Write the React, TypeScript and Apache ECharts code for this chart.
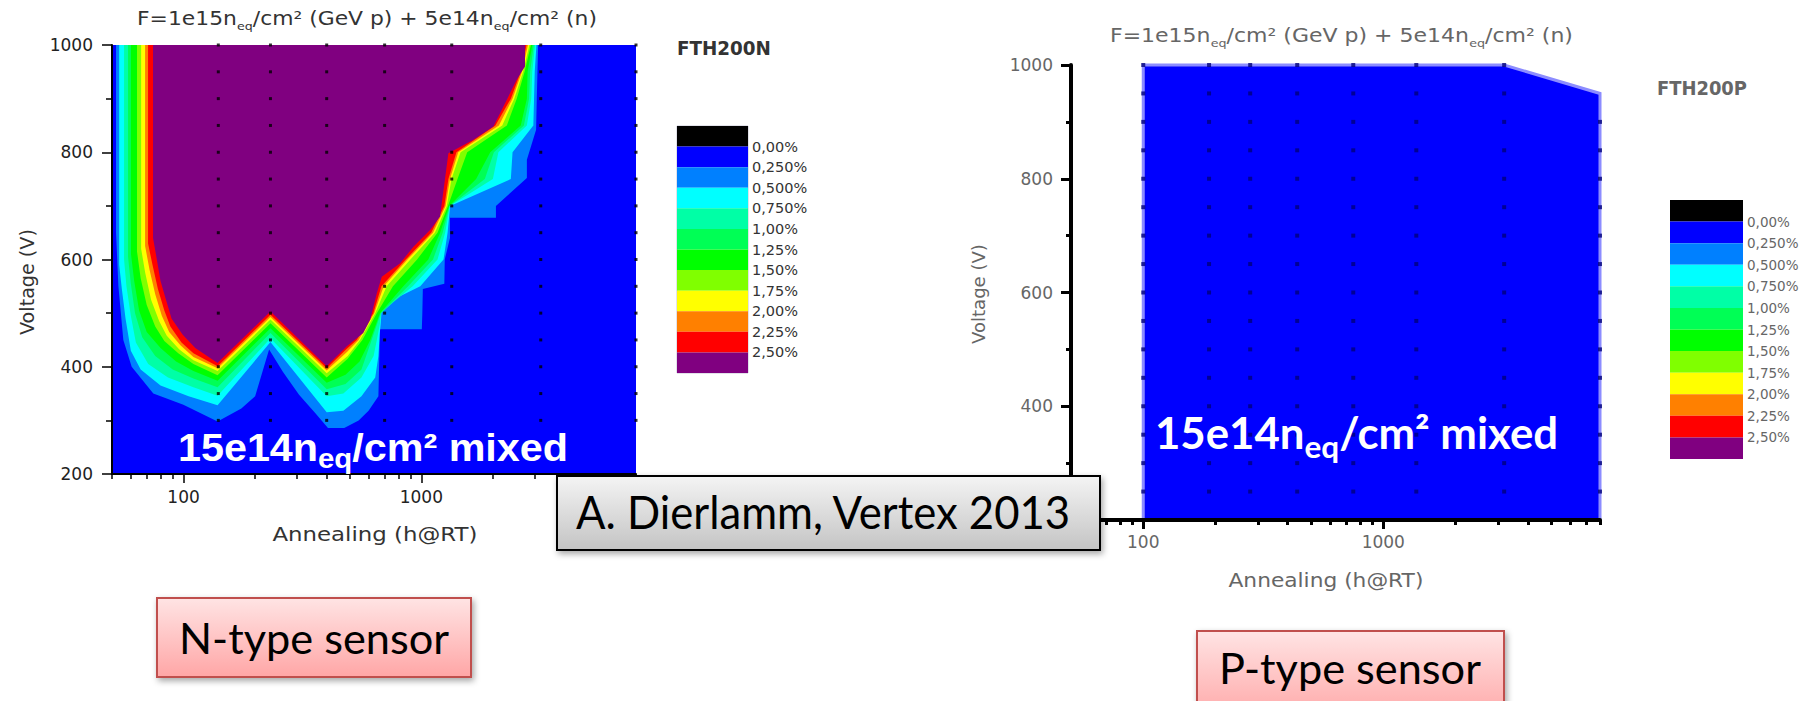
import React, { useEffect, useRef } from 'react';
import * as echarts from 'echarts';

// Leakage-current classes (0.25 % steps), lowest to highest
const BAND_COLORS = ['#000000', '#0000ff', '#0080ff', '#00ffff', '#00ffa6', '#00ff55', '#00ff00', '#80ff00', '#ffff00', '#ff8000', '#ff0000', '#800080'];
const BAND_LABELS = ['0,00%', '0,250%', '0,500%', '0,750%', '1,00%', '1,25%', '1,50%', '1,75%', '2,00%', '2,25%', '2,50%'];

// Axes: annealing time (h@RT, log) and bias voltage (V)
const TIME_RANGE = [50, 8000];
const TIME_MAJOR = [100, 1000];
const TIME_MINOR = [50, 60, 70, 80, 90, 200, 300, 400, 500, 600, 700, 800, 900, 2000, 3000, 4000, 5000, 6000, 7000, 8000];
const VOLT_RANGE = [200, 1000];
const VOLT_STEP = 200;

// FTH200N: outline of each region above a class threshold, [annealing h, voltage V]
const N_025 = [[52, 1000], [52, 650], [53.2, 550], [55.8, 450], [60.5, 400], [74.6, 350], [99.8, 329], [139, 298], [175, 322], [200, 345], [229, 432], [262, 390], [306, 348], [357, 314], [405, 286], [474, 286], [545, 300], [600, 318], [660, 345], [670, 470], [1005, 470], [1010, 500], [1015, 545], [1250, 555], [1255, 600], [1320, 640], [1320, 678], [2060, 678], [2060, 700], [2780, 752], [2780, 786], [3040, 842], [3060, 900], [3100, 1000]];
const N_050 = [[53.6, 1000], [53.6, 590], [55, 545], [57, 490], [60, 430], [66, 395], [80, 365], [105, 345], [139, 328], [232, 446], [400, 315], [470, 318], [560, 345], [640, 380], [660, 420], [668, 460], [675, 480], [680, 500], [720, 520], [990, 550], [1240, 600], [1290, 650], [1322, 700], [2380, 750], [2420, 800], [2960, 850], [2980, 900], [3000, 950], [3050, 1000]];
const N_075 = [[56.2, 1000], [56.2, 600], [57.5, 550], [60, 495], [63, 445], [71, 405], [86, 380], [110, 362], [139, 346], [232, 453], [400, 345], [470, 350], [560, 380], [630, 420], [650, 450], [670, 480], [678, 500], [760, 520], [920, 550], [1170, 600], [1260, 650], [1318, 700], [2000, 750], [2110, 800], [2780, 850], [2900, 900], [2930, 950], [3010, 1000]];
const N_100 = [[58.4, 1000], [58.4, 605], [60, 555], [62.5, 500], [67, 455], [76, 420], [90, 395], [110, 378], [139, 362], [232, 463], [400, 358], [480, 368], [560, 395], [618, 450], [675, 500], [880, 550], [1120, 600], [1230, 650], [1315, 700], [1850, 750], [2020, 800], [2700, 850], [2840, 900], [2870, 950], [2970, 1000]];
const N_125 = [[60.1, 1000], [60.1, 610], [62, 560], [65, 505], [70, 465], [80, 435], [93, 410], [110, 392], [139, 374], [232, 472], [400, 370], [480, 385], [550, 410], [610, 450], [670, 500], [840, 550], [1070, 600], [1200, 650], [1310, 700], [1700, 750], [1950, 800], [2620, 850], [2780, 900], [2800, 950], [2930, 1000]];
const N_150 = [[63.7, 1000], [63.7, 615], [66, 565], [70, 515], [76, 475], [83, 448], [95, 425], [110, 405], [139, 384], [232, 481], [400, 380], [490, 415], [565, 450], [650, 500], [760, 550], [960, 600], [1170, 650], [1295, 700], [1420, 750], [1560, 800], [2290, 850], [2520, 900], [2720, 950], [2890, 1000]];
const N_175 = [[66.3, 1000], [66.3, 620], [69, 575], [73, 525], [79, 485], [85, 458], [96, 432], [110, 412], [139, 392], [232, 488], [400, 388], [490, 420], [552, 450], [640, 500], [715, 550], [900, 600], [1140, 650], [1280, 700], [1340, 750], [1463, 800], [2190, 850], [2460, 900], [2680, 950], [2850, 1000]];
const N_200 = [[68.9, 1000], [68.9, 625], [72, 580], [76, 535], [81, 495], [87, 465], [97, 440], [110, 418], [139, 397], [232, 493], [400, 393], [488, 428], [545, 450], [634, 500], [695, 550], [875, 600], [1120, 650], [1265, 700], [1320, 750], [1430, 800], [2120, 850], [2420, 900], [2650, 950], [2810, 1000]];
const N_225 = [[70.9, 1000], [70.9, 630], [74, 590], [78, 545], [83, 505], [88, 475], [98, 445], [110, 425], [139, 401], [232, 497], [400, 397], [485, 433], [535, 450], [628, 500], [680, 550], [860, 600], [1100, 650], [1250, 700], [1300, 750], [1405, 800], [2050, 850], [2380, 900], [2620, 950], [2770, 1000]];
const N_250 = [[74.4, 1000], [74.4, 640], [76.5, 610], [80, 560], [85, 520], [89, 490], [99, 460], [112, 435], [139, 407], [232, 503], [400, 401], [486, 438], [570, 463], [610, 488], [650, 537], [682, 568], [815, 593], [927, 624], [1089, 655], [1199, 680], [1300, 798], [1650, 823], [2010, 848], [2290, 898], [2518, 935], [2730, 960], [2730, 1000]];
const N_CONTOURS = [N_025, N_050, N_075, N_100, N_125, N_150, N_175, N_200, N_225, N_250];

// FTH200N measurement grid
const N_MEAS_TIMES = [140, 232, 400, 701, 1343, 3180, 8000];
const N_MEAS_VOLTS = [300, 350, 400, 450, 500, 550, 600, 650, 700, 750, 800, 850, 900, 950, 1000];

// FTH200P: whole measured area stays in the lowest class
const P_REGION = [[100, 200], [100, 1000], [3190, 1000], [8000, 950], [8000, 200]];
const P_MEAS_TIMES = [100, 188, 279, 438, 750, 1373, 3190];
const P_MEAS_VOLTS = [250, 300, 350, 400, 450, 500, 550, 600, 650, 700, 750, 800, 850, 900, 950, 1000];
const P_LAST_TIME = 8000;
const P_LAST_VOLTS = [250, 300, 350, 400, 450, 500, 550, 600, 650, 700, 750, 800, 850, 900];

const FONT = 'DejaVu Sans';
const SLIDE_FONT = 'Lato';

type Seg = { text: string; sub?: boolean };
const TITLE_SEGS: Seg[] = [{ text: 'F=1e15n' }, { text: 'eq', sub: true }, { text: '/cm² (GeV p) + 5e14n' }, { text: 'eq', sub: true }, { text: '/cm² (n)' }];
const MIXED_SEGS: Seg[] = [{ text: '15e14n' }, { text: 'eq', sub: true }, { text: '/cm² mixed' }];

let measureCtx: CanvasRenderingContext2D | null = null;
function textWidth(text: string, size: number, family: string, weight: string | number) {
  if (!measureCtx) measureCtx = document.createElement('canvas').getContext('2d');
  if (!measureCtx) return text.length * size * 0.6;
  measureCtx.font = `${weight} ${size}px "${family}"`;
  return measureCtx.measureText(text).width;
}

interface LineOpts {
  segs: Seg[]; x: number; y: number; width: number; size: number; subSize?: number; subDy?: number;
  family: string; weight?: string | number; color: string; anchor?: 'left' | 'center'; z: number; rotation?: number;
}

// One line of text with subscripts, laid out segment by segment and stretched to a given width
function textLine(o: LineOpts) {
  const weight = o.weight ?? 'normal';
  const widths = o.segs.map((s) => textWidth(s.text, s.sub ? (o.subSize ?? o.size * 0.6) : o.size, o.family, weight));
  const natural = widths.reduce((a, b) => a + b, 0);
  let cursor = o.anchor === 'center' ? -natural / 2 : 0;
  const children: any[] = [];
  o.segs.forEach((s, i) => {
    const fs = s.sub ? (o.subSize ?? o.size * 0.6) : o.size;
    children.push({
      type: 'text', x: cursor, y: s.sub ? (o.subDy ?? 0) : 0, z: o.z, silent: true,
      style: { text: s.text, fontSize: fs, fontFamily: o.family, fontWeight: weight, fill: o.color, align: 'left', verticalAlign: 'middle' },
    });
    cursor += widths[i];
  });
  return { type: 'group', x: o.x, y: o.y, rotation: o.rotation ?? 0, scaleX: o.width / natural, children };
}

function slideBox(x: number, y: number, w: number, h: number, top: string, bottom: string, stroke: string, z: number) {
  return {
    type: 'rect', z, silent: true,
    shape: { x, y, width: w, height: h },
    style: {
      fill: { type: 'linear', x: 0, y: 0, x2: 0, y2: 1, colorStops: [{ offset: 0, color: top }, { offset: 1, color: bottom }] },
      stroke, lineWidth: 2, shadowBlur: 6, shadowOffsetX: 2, shadowOffsetY: 3, shadowColor: 'rgba(0,0,0,0.35)',
    },
  };
}

function timeAxes(gridIndex: number, lineWidth: number, tickWidth: number, labelColor: string, labelSize: number, labelMargin: number) {
  const base = { type: 'log', logBase: 10, gridIndex, min: TIME_RANGE[0], max: TIME_RANGE[1], position: 'bottom', z: 10, splitLine: { show: false } };
  return [
    {
      ...base,
      axisLine: { show: true, onZero: false, lineStyle: { color: '#000', width: lineWidth } },
      axisTick: { show: true, customValues: TIME_MAJOR, length: 9, lineStyle: { color: '#000', width: tickWidth } },
      axisLabel: {
        customValues: TIME_MAJOR, margin: labelMargin, fontSize: labelSize, color: labelColor, fontFamily: FONT,
        formatter: (v: number) => String(Math.round(v)),
      },
    },
    {
      ...base,
      axisLine: { show: false, onZero: false },
      axisLabel: { show: false },
      axisTick: { show: true, customValues: TIME_MINOR, length: 5, lineStyle: { color: '#000', width: tickWidth } },
    },
  ];
}

function voltAxis(gridIndex: number, lineWidth: number, tickWidth: number, labelColor: string, labelSize: number, labelMargin: number, minorLen: number) {
  return {
    type: 'value', gridIndex, min: VOLT_RANGE[0], max: VOLT_RANGE[1], interval: VOLT_STEP, z: 10,
    axisLine: { show: true, onZero: false, lineStyle: { color: '#000', width: lineWidth } },
    axisTick: { show: true, length: 10, lineStyle: { color: '#000', width: tickWidth } },
    minorTick: { show: true, splitNumber: 2, length: minorLen, lineStyle: { color: '#000', width: tickWidth } },
    splitLine: { show: false },
    axisLabel: { margin: labelMargin, fontSize: labelSize, color: labelColor, fontFamily: FONT, formatter: (v: number) => String(v) },
  };
}

function legendAxes(gridIndex: number, color: string, size: number) {
  return {
    x: { type: 'value', gridIndex, min: 0, max: 1, show: false },
    y: {
      type: 'value', gridIndex, min: 0, max: BAND_COLORS.length, interval: 1, inverse: true, position: 'right', z: 10,
      axisLine: { show: false }, axisTick: { show: false }, splitLine: { show: false },
      axisLabel: {
        margin: 4, fontSize: size, color, fontFamily: FONT,
        formatter: (v: number) => BAND_LABELS[Math.round(v) - 1] ?? '',
      },
    },
  };
}

function legendSeries(xAxisIndex: number, yAxisIndex: number) {
  return {
    type: 'custom', xAxisIndex, yAxisIndex, silent: true, z: 2,
    data: BAND_COLORS.map((_, i) => [0.5, i + 0.5]),
    renderItem: (params: any, api: any) => {
      const i = params.dataIndex;
      const a = api.coord([0, i]);
      const b = api.coord([1, i + 1]);
      return {
        type: 'rect',
        shape: { x: Math.min(a[0], b[0]), y: Math.min(a[1], b[1]), width: Math.abs(b[0] - a[0]), height: Math.abs(b[1] - a[1]) },
        style: { fill: BAND_COLORS[i] },
      };
    },
  };
}

function buildOption() {
  const nTime = timeAxes(0, 2, 1.5, '#222', 17, 14);
  const pTime = timeAxes(2, 4, 3, '#666', 17, 13);
  const nLeg = legendAxes(1, '#333', 14.5);
  const pLeg = legendAxes(3, '#666', 13.5);

  const nDots: number[][] = [];
  N_MEAS_TIMES.forEach((t) => N_MEAS_VOLTS.forEach((v) => nDots.push([t, v])));
  const pDots: number[][] = [];
  P_MEAS_TIMES.forEach((t) => P_MEAS_VOLTS.forEach((v) => pDots.push([t, v])));
  P_LAST_VOLTS.forEach((v) => pDots.push([P_LAST_TIME, v]));

  return {
    animation: false,
    backgroundColor: '#ffffff',
    grid: [
      { left: 112, top: 45, width: 524, height: 429, show: true, backgroundColor: '#0000ff', borderWidth: 0, containLabel: false, outerBoundsMode: 'none' },
      { left: 677, top: 126, width: 71, height: 247, show: true, backgroundColor: 'transparent', borderColor: '#c4c4d4', borderWidth: 1, containLabel: false, outerBoundsMode: 'none' },
      { left: 1071, top: 65, width: 529, height: 455, show: false, containLabel: false, outerBoundsMode: 'none' },
      { left: 1670, top: 200, width: 73, height: 259, show: false, containLabel: false, outerBoundsMode: 'none' },
    ],
    xAxis: [nTime[0], nTime[1], nLeg.x, pTime[0], pTime[1], pLeg.x],
    yAxis: [
      voltAxis(0, 2, 1.5, '#222', 17, 19, 6),
      nLeg.y,
      voltAxis(2, 4, 3, '#666', 17, 18, 5),
      pLeg.y,
    ],
    series: [
      {
        type: 'custom', xAxisIndex: 0, yAxisIndex: 0, clip: true, silent: true, z: 1,
        data: N_CONTOURS.map((p) => p[0]),
        renderItem: (params: any, api: any) => {
          const poly = N_CONTOURS[params.dataIndex];
          return {
            type: 'polygon',
            shape: { points: poly.map((pt) => api.coord(pt)) },
            style: { fill: BAND_COLORS[params.dataIndex + 2] },
          };
        },
      },
      {
        type: 'scatter', xAxisIndex: 1, yAxisIndex: 0, symbol: 'rect', symbolSize: 3, silent: true, z: 3,
        itemStyle: { color: '#000' }, data: nDots,
      },
      legendSeries(2, 1),
      {
        type: 'custom', xAxisIndex: 3, yAxisIndex: 2, clip: false, silent: true, z: 1,
        data: [P_REGION[0]],
        renderItem: (_params: any, api: any) => ({
          type: 'polygon',
          shape: { points: P_REGION.map((pt) => api.coord(pt)) },
          style: { fill: BAND_COLORS[1], stroke: '#8c8cff', lineWidth: 3 },
        }),
      },
      {
        type: 'scatter', xAxisIndex: 3, yAxisIndex: 2, symbol: 'rect', symbolSize: [4, 4], silent: true, z: 3,
        itemStyle: { color: '#00007a' }, data: pDots,
      },
      legendSeries(5, 3),
    ],
    graphic: [
      // FTH200N panel texts
      textLine({ segs: TITLE_SEGS, x: 137, y: 19, width: 460, size: 19, subSize: 11, subDy: 7, family: FONT, color: '#333', z: 20 }),
      textLine({ segs: [{ text: 'FTH200N' }], x: 677, y: 48, width: 94, size: 19, family: FONT, weight: 'bold', color: '#333', z: 20 }),
      textLine({ segs: [{ text: 'Voltage (V)' }], x: 27, y: 282, width: 106, size: 19, family: FONT, color: '#333', anchor: 'center', rotation: Math.PI / 2, z: 20 }),
      textLine({ segs: [{ text: 'Annealing (h@RT)' }], x: 375, y: 534, width: 205, size: 19, family: FONT, color: '#333', anchor: 'center', z: 20 }),
      // FTH200P panel texts
      textLine({ segs: TITLE_SEGS, x: 1110, y: 36, width: 463, size: 19, subSize: 11, subDy: 7, family: FONT, color: '#666', z: 20 }),
      textLine({ segs: [{ text: 'FTH200P' }], x: 1657, y: 88, width: 90, size: 19, family: FONT, weight: 'bold', color: '#666', z: 20 }),
      textLine({ segs: [{ text: 'Voltage (V)' }], x: 979, y: 294, width: 100, size: 18, family: FONT, color: '#666', anchor: 'center', rotation: Math.PI / 2, z: 20 }),
      textLine({ segs: [{ text: 'Annealing (h@RT)' }], x: 1326, y: 580, width: 195, size: 19, family: FONT, color: '#666', anchor: 'center', z: 20 }),
      // fluence annotations
      textLine({ segs: MIXED_SEGS, x: 178, y: 448, width: 390, size: 38, subSize: 27, subDy: 10, family: 'Liberation Sans', weight: 'bold', color: '#ffffff', z: 50 }),
      textLine({ segs: MIXED_SEGS, x: 1155, y: 432, width: 403, size: 43, subSize: 31, subDy: 14, family: SLIDE_FONT, weight: 'bold', color: '#ffffff', z: 50 }),
      // slide call-outs
      slideBox(557, 476, 543, 74, '#f4f4f4', '#c4c4c4', '#000000', 100),
      textLine({ segs: [{ text: 'A. Dierlamm, Vertex 2013' }], x: 824, y: 512, width: 496, size: 46, family: SLIDE_FONT, color: '#000', anchor: 'center', z: 101 }),
      slideBox(157, 598, 314, 79, '#ffe4e4', '#ffa6a6', '#c0504d', 100),
      textLine({ segs: [{ text: 'N-type sensor' }], x: 314, y: 638, width: 270, size: 42, family: SLIDE_FONT, color: '#000', anchor: 'center', z: 101 }),
      slideBox(1197, 631, 307, 90, '#ffe4e4', '#ffa6a6', '#c0504d', 100),
      textLine({ segs: [{ text: 'P-type sensor' }], x: 1350, y: 668, width: 262, size: 42, family: SLIDE_FONT, color: '#000', anchor: 'center', z: 101 }),
    ],
  };
}

export default function App() {
  const ref = useRef<HTMLDivElement>(null);
  useEffect(() => {
    document.body.style.margin = '0';
    const chart = echarts.init(ref.current as HTMLDivElement, null, { renderer: 'svg', width: 1808, height: 701 });
    chart.setOption(buildOption() as any);
    return () => chart.dispose();
  }, []);
  return <div ref={ref} style={{ width: 1808, height: 701, background: '#ffffff' }} />;
}
